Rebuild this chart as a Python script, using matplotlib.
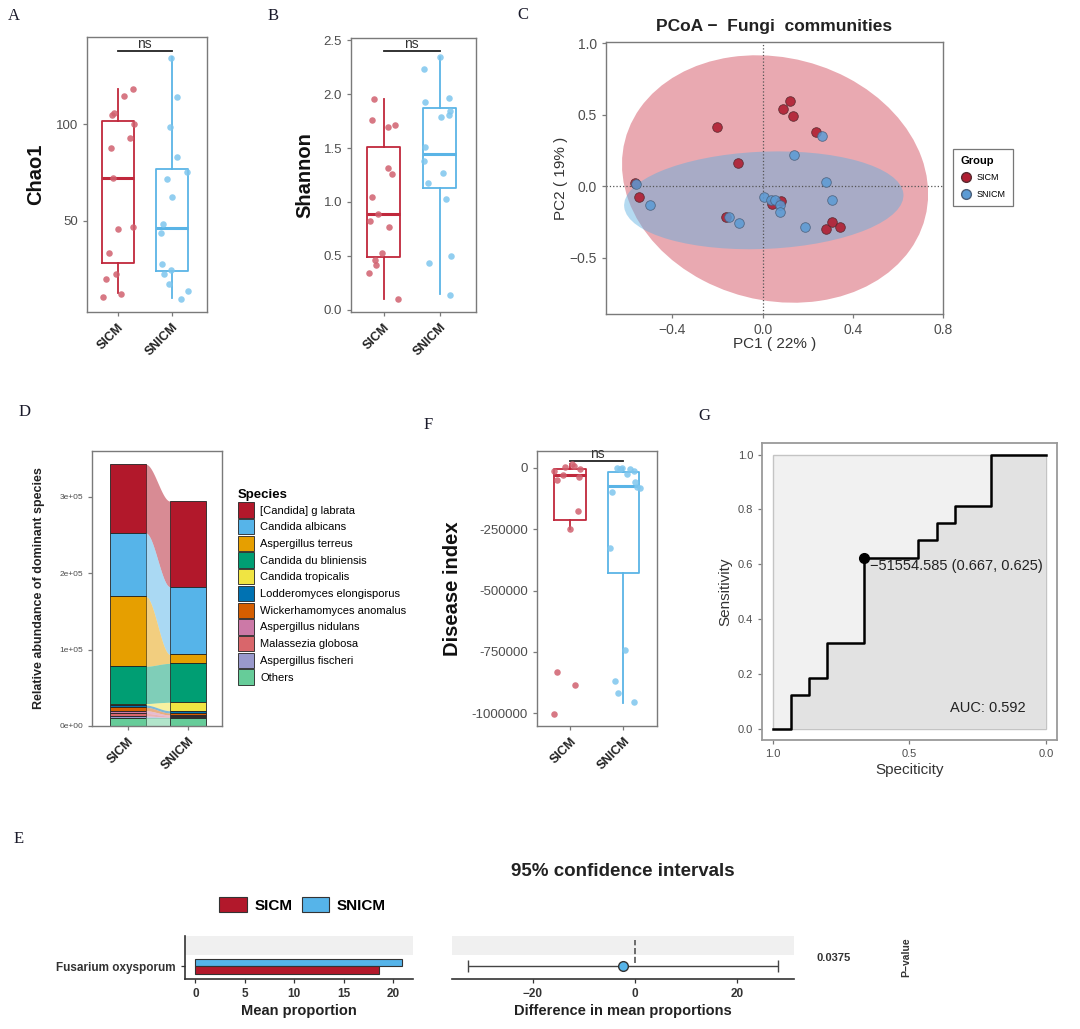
import numpy as np
import matplotlib.pyplot as plt
from matplotlib.patches import Ellipse, Patch, Rectangle
from matplotlib.lines import Line2D

plt.rcParams['font.family'] = ['Liberation Sans', 'DejaVu Sans']

W, H = 1080, 1029

RED = '#C0283C'
BLUE = '#5AB4E6'
RED_PT = '#D0606E'
BLUE_PT = '#7EC6EE'
SPINE = '#7a7a7a'
TXT = '#4d4d4d'

groups = ['SICM', 'SNICM']

# ---- A: Chao1
chao_sicm = [117.9, 114.6, 105.5, 104.5, 100.0, 93.0, 87.6, 72.3, 45.7, 46.7, 33.7, 20.1, 22.5, 10.7, 12.4]
chao_sicm_jit = [0.28, 0.12, -0.07, -0.10, 0.30, 0.23, -0.12, -0.09, 0.01, 0.28, -0.17, -0.22, -0.04, -0.27, 0.06]
chao_snicm = [134.2, 114.1, 98.6, 82.8, 75.4, 71.6, 62.5, 48.3, 44.0, 27.7, 22.5, 24.7, 17.4, 13.6, 9.6]
chao_snicm_jit = [-0.02, 0.09, -0.03, 0.09, 0.28, -0.09, 0.0, -0.16, -0.20, -0.19, -0.15, -0.02, -0.06, 0.30, 0.17]
# whislo, q1, med, q3, whishi
chao_box = [[12.9, 28.4, 72.2, 101.5, 118.0], [10.3, 24.2, 46.4, 76.8, 134.5]]

# ---- B: Shannon
shan_sicm = [1.954, 1.759, 1.710, 1.694, 1.318, 1.256, 1.049, 0.892, 0.824, 0.769, 0.525, 0.463, 0.417, 0.340, 0.099]
shan_sicm_jit = [-0.17, -0.21, 0.20, 0.08, 0.08, 0.16, -0.20, -0.09, -0.24, 0.10, -0.02, -0.16, -0.14, -0.26, 0.26]
shan_snicm = [2.34, 2.228, 1.929, 1.96, 1.843, 1.806, 1.784, 1.512, 1.377, 1.265, 1.179, 1.028, 0.503, 0.438, 0.139]
shan_snicm_jit = [0.01, -0.28, -0.26, 0.16, 0.19, 0.16, 0.02, -0.26, -0.27, 0.06, -0.20, 0.12, 0.21, -0.18, 0.19]
shan_box = [[0.10, 0.491, 0.892, 1.509, 1.954], [0.145, 1.133, 1.448, 1.873, 2.34]]

# ---- C: PCoA
pc_sicm_x = [0.122, 0.090, 0.133, -0.203, 0.238, -0.111, -0.568, -0.548, -0.163, 0.040, 0.083, 0.281, 0.306, 0.341]
pc_sicm_y = [0.596, 0.542, 0.491, 0.414, 0.383, 0.161, 0.021, -0.077, -0.217, -0.124, -0.100, -0.299, -0.252, -0.283]
pc_snicm_x = [0.265, 0.138, 0.281, 0.306, -0.563, -0.500, -0.151, -0.105, 0.008, 0.035, 0.054, 0.078, 0.079, 0.186]
pc_snicm_y = [0.355, 0.220, 0.033, -0.093, 0.016, -0.129, -0.217, -0.259, -0.077, -0.096, -0.093, -0.129, -0.178, -0.283]
# centre x, centre y, width, height, angle
ell_sicm = (0.055, 0.052, 1.334, 1.749, 13)
ell_snicm = (0.005, -0.097, 1.242, 0.679, 4.6)

# ---- D: dominant species (stacked, top to bottom)
species = ['[Candida] g labrata', 'Candida albicans', 'Aspergillus terreus', 'Candida du bliniensis',
           'Candida tropicalis', 'Lodderomyces elongisporus', 'Wickerhamomyces anomalus',
           'Aspergillus nidulans', 'Malassezia globosa', 'Aspergillus fischeri', 'Others']
species_colors = ['#B2182B', '#56B4E9', '#E69F00', '#009E73', '#F0E442', '#0072B2', '#D55E00',
                  '#CC79A7', '#D9666B', '#9999CC', '#66CC99']
abund_sicm = [90000, 83000, 91500, 48800, 2000, 3000, 4400, 3500, 3500, 3000, 10000]
abund_snicm = [112100, 88600, 11800, 51000, 11000, 3000, 2500, 1500, 1500, 1500, 10000]
d_yticks = [0, 100000, 200000, 300000]
d_yticklabels = ['0e+00', '1e+05', '2e+05', '3e+05']

# ---- F: disease index
dis_sicm = [-1001000, -831500, -883000, -251400, -176600, -50300, -15000, 4000, 15000, 6800, -39400, -5400, -29900]
dis_sicm_jit = [-0.30, -0.24, 0.09, -0.01, 0.14, -0.24, -0.30, -0.09, 0.03, 0.07, 0.16, 0.19, -0.13]
dis_snicm = [-953800, -917000, -869600, -740500, -328800, -97800, -2700, -5400, -27200, -13600, -57000, -77400, -84200, -5400, -2700]
dis_snicm_jit = [0.19, -0.11, -0.16, 0.03, -0.26, -0.22, -0.12, -0.06, 0.06, 0.19, 0.22, 0.26, 0.31, 0.13, -0.03]
dis_box = [[-251000, -213000, -29900, -6800, 15000], [-956500, -430700, -73400, -19000, 0]]
dis_yticks = [0, -250000, -500000, -750000, -1000000]

# ---- G: ROC
roc_spec = [1.0, 0.933, 0.933, 0.867, 0.867, 0.8, 0.8, 0.667, 0.667, 0.467, 0.467,
            0.4, 0.4, 0.333, 0.333, 0.2, 0.2, 0.0]
roc_sens = [0.0, 0.0, 0.125, 0.125, 0.1875, 0.1875, 0.3125, 0.3125, 0.625, 0.625, 0.6875,
            0.6875, 0.75, 0.75, 0.8125, 0.8125, 1.0, 1.0]
best_spec, best_sens = 0.667, 0.625
best_thr = '\u221251554.585'
auc = 0.592

# ---- E: extended error bar
e_feature = ['Fusarium oxysporum']
e_mean_sicm = [18.6]
e_mean_snicm = [20.9]
e_diff = [-2.3]
e_ci_low = [-32.7]
e_ci_high = [28.1]
e_pvalue = ['0.0375']


fig = plt.figure(figsize=(W / 100, H / 100), dpi=100)


def px_axes(l, t, r, b):
    return fig.add_axes([l / W, 1 - b / H, (r - l) / W, (b - t) / H])


def style(ax, fs=9.5):
    for s in ax.spines.values():
        s.set_color(SPINE)
        s.set_linewidth(1.0)
    ax.tick_params(colors=SPINE, labelcolor=TXT, labelsize=fs, length=3, width=0.9)


def box_panel(ax, box, pts, jit, ylabel, ns_y, lab_x):
    cols = [RED, BLUE]
    pcols = [RED_PT, BLUE_PT]
    for i in range(2):
        st = box[i]
        stats = [dict(whislo=st[0], q1=st[1], med=st[2], q3=st[3], whishi=st[4], fliers=[])]
        ax.bxp(stats, positions=[i + 1], widths=0.6, showfliers=False, showcaps=False,
               boxprops=dict(color=cols[i], lw=1.3), whiskerprops=dict(color=cols[i], lw=1.3),
               medianprops=dict(color=cols[i], lw=2.2))
        ax.scatter(np.array(jit[i]) + i + 1, pts[i], s=22, color=pcols[i], alpha=0.85,
                   lw=0, zorder=3)
    ax.plot([1, 2], [ns_y, ns_y], color='#222222', lw=1.3)
    ax.text(1.5, ns_y, 'ns', ha='center', va='bottom', fontsize=10, color='#333333')
    ax.set_xticks([1, 2])
    ax.set_xticklabels(groups, rotation=45, ha='right', rotation_mode='anchor',
                       fontweight='bold', fontsize=9, color='#222222')
    ax.set_ylabel(ylabel, fontsize=14.5, fontweight='bold', color='#111111')
    ax.yaxis.set_label_coords(lab_x, 0.5)


# ---------- A
axA = px_axes(87, 37, 207, 312)
style(axA)
box_panel(axA, chao_box, [chao_sicm, chao_snicm], [chao_sicm_jit, chao_snicm_jit],
          'Chao1', 137.8, -0.35)
axA.set_xlim(0.43, 2.65)
axA.set_ylim(3, 145)
axA.set_yticks([50, 100])

# ---------- B
axB = px_axes(351, 38, 476, 312)
style(axB)
box_panel(axB, shan_box, [shan_sicm, shan_snicm], [shan_sicm_jit, shan_snicm_jit],
          'Shannon', 2.398, -0.29)
axB.set_xlim(0.42, 2.65)
axB.set_ylim(-0.02, 2.52)
axB.set_yticks([0, 0.5, 1.0, 1.5, 2.0, 2.5])
axB.set_yticklabels(['0.0', '0.5', '1.0', '1.5', '2.0', '2.5'])

# ---------- C
axC = px_axes(606, 42, 943, 314)
style(axC, 10)
e1 = Ellipse(ell_sicm[:2], ell_sicm[2], ell_sicm[3], angle=ell_sicm[4],
             facecolor='#C8283C', alpha=0.4, lw=0, zorder=1)
e2 = Ellipse(ell_snicm[:2], ell_snicm[2], ell_snicm[3], angle=ell_snicm[4],
             facecolor='#5AAEE0', alpha=0.45, lw=0, zorder=2)
axC.add_patch(e1)
axC.add_patch(e2)
axC.axhline(0, ls=':', color='#555555', lw=0.9, zorder=2.5)
axC.axvline(0, ls=':', color='#555555', lw=0.9, zorder=2.5)
axC.scatter(pc_sicm_x, pc_sicm_y, s=48, color='#B01E32', edgecolor='#5a2a30', lw=0.6,
            alpha=0.9, zorder=3)
axC.scatter(pc_snicm_x, pc_snicm_y, s=48, color='#5B9BD5', edgecolor='#4a5f7a', lw=0.6,
            alpha=0.85, zorder=4)
axC.set_xlim(-0.695, 0.80)
axC.set_ylim(-0.892, 1.01)
axC.set_xticks([-0.4, 0.0, 0.4, 0.8])
axC.set_yticks([-0.5, 0.0, 0.5, 1.0])
axC.set_xlabel('PC1 ( 22% )', fontsize=11, color='#333333')
axC.set_ylabel('PC2 ( 19% )', fontsize=11, color='#333333')
axC.xaxis.set_label_coords(0.5, -0.085)
axC.yaxis.set_label_coords(-0.113, 0.5)
axC.text(0.5, 1.057, 'PCoA \u2212  Fungi  communities', transform=axC.transAxes,
         ha='center', va='center', fontsize=12.5, fontweight='bold', color='#222222')
hC = [Line2D([], [], marker='o', ls='', color='#B01E32', markeredgecolor='#5a2a30', ms=7),
      Line2D([], [], marker='o', ls='', color='#5B9BD5', markeredgecolor='#4a5f7a', ms=7)]
legC = fig.legend(hC, groups, loc='upper left', bbox_to_anchor=(953 / W, 1 - 149 / H),
                  borderaxespad=0, title='Group', fontsize=6.5,
                  title_fontproperties={'weight': 'bold', 'size': 8},
                  alignment='left', frameon=True, fancybox=False, edgecolor='#555555',
                  borderpad=0.8, handletextpad=0.6, labelspacing=0.8, handlelength=1.2)
legC.get_frame().set_linewidth(0.9)

# ---------- D
axD = px_axes(92, 451, 222, 726)
style(axD, 6)
pos = [1, 2]
bw = 0.6
bot1, bot2 = sum(abund_sicm), sum(abund_snicm)
xs = np.linspace(1 + bw / 2, 2 - bw / 2, 60)
t = (xs - xs[0]) / (xs[-1] - xs[0])
sm = t * t * (3 - 2 * t)
for name, c, a1, a2 in zip(species, species_colors, abund_sicm, abund_snicm):
    top1, top2 = bot1, bot2
    bot1, bot2 = bot1 - a1, bot2 - a2
    axD.bar(pos, [a1, a2], bottom=[bot1, bot2], width=bw, color=c, edgecolor='#222222', lw=0.6)
    lo = bot1 + (bot2 - bot1) * sm
    hi = top1 + (top2 - top1) * sm
    axD.fill_between(xs, lo, hi, color=c, alpha=0.5, lw=0)
axD.set_xlim(0.405, 2.57)
axD.set_ylim(0, 360000)
axD.set_yticks(d_yticks)
axD.set_yticklabels(d_yticklabels)
axD.set_xticks(pos)
axD.set_xticklabels(groups, rotation=45, ha='right', rotation_mode='anchor',
                    fontweight='bold', fontsize=9, color='#222222')
axD.set_ylabel('Relative abundance of dominant species', fontsize=9, fontweight='bold',
               color='#222222')
axD.yaxis.set_label_coords(-0.36, 0.5)
hD = [Patch(facecolor=c, edgecolor='#222222', lw=0.6) for c in species_colors]
fig.legend(hD, species, loc='upper left', bbox_to_anchor=(238 / W, 1 - 489 / H),
           borderaxespad=0, title='Species', fontsize=8,
           title_fontproperties={'weight': 'bold', 'size': 9.5},
           alignment='left', frameon=False, borderpad=0, handlelength=1.4, handleheight=1.75,
           labelspacing=0.12, handletextpad=0.6)

# ---------- F
axF = px_axes(537, 451, 657, 726)
style(axF)
box_panel(axF, dis_box, [dis_sicm, dis_snicm], [dis_sicm_jit, dis_snicm_jit],
          'Disease index', 28500, -0.625)
axF.set_xlim(0.375, 2.63)
axF.set_ylim(-1051700, 68000)
axF.set_yticks(dis_yticks)
axF.set_yticklabels([str(v) for v in dis_yticks])

# ---------- G
axG = px_axes(762, 443, 1057, 740)
style(axG, 8)
axG.add_patch(Rectangle((0, 0), 1, 1, facecolor='#f1f1f1', edgecolor='#c4c4c4', lw=1.0, zorder=0))
axG.fill_between(roc_spec, roc_sens, 0, color='#e2e2e2', lw=0, zorder=1)
axG.plot(roc_spec, roc_sens, color='black', lw=1.8, zorder=2)
axG.plot(best_spec, best_sens, 'o', color='black', ms=7, zorder=3)
axG.text(best_spec - 0.022, best_sens - 0.03, f'{best_thr} ({best_spec:.3f}, {best_sens:.3f})',
         fontsize=10.5, ha='left', va='center', color='#222222', zorder=4)
axG.text(0.213, 0.079, f'AUC: {auc:.3f}', fontsize=10.5, ha='center', va='center',
         color='#222222')
axG.set_xlim(1.039, -0.041)
axG.set_ylim(-0.039, 1.042)
axG.set_xticks([1.0, 0.5, 0.0])
axG.set_yticks([0, 0.2, 0.4, 0.6, 0.8, 1.0])
axG.set_xticklabels(['1.0', '0.5', '0.0'])
axG.set_yticklabels(['0.0', '0.2', '0.4', '0.6', '0.8', '1.0'])
for s in axG.spines.values():
    s.set_color('#9a9a9a')
    s.set_linewidth(1.3)
axG.set_xlabel('Speciticity', fontsize=11, color='#333333')
axG.set_ylabel('Sensitivity', fontsize=11, color='#333333')
axG.xaxis.set_label_coords(0.5, -0.077)
axG.yaxis.set_label_coords(-0.10, 0.5)

# ---------- E left: mean proportions
axE1 = px_axes(185, 936, 413, 979)
axE1.axhspan(1.5, 2.5, color='#f0f0f0', lw=0, zorder=0)
axE1.barh([1.175], e_mean_snicm, height=0.35, color='#56B4E9', edgecolor='#333333', lw=0.8)
axE1.barh([0.825], e_mean_sicm, height=0.35, color='#B2182B', edgecolor='#333333', lw=0.8)
axE1.set_xlim(-1.05, 22)
axE1.set_ylim(0.4, 2.4)
axE1.set_yticks([1])
axE1.set_yticklabels(e_feature, fontsize=9, fontweight='bold', color='#333333')
axE1.set_xticks([0, 5, 10, 15, 20])
axE1.tick_params(labelsize=8.5, length=3, width=0.9, colors='#333333')
for lab in axE1.get_xticklabels():
    lab.set_fontweight('bold')
for s in ['top', 'right']:
    axE1.spines[s].set_visible(False)
for s in ['left', 'bottom']:
    axE1.spines[s].set_color('#333333')
    axE1.spines[s].set_linewidth(1.2)
axE1.set_xlabel('Mean proportion', fontsize=10.5, fontweight='bold', color='#222222')
axE1.xaxis.set_label_coords(0.5, -0.58)
hE = [Patch(facecolor='#B2182B', edgecolor='#333333', lw=0.8),
      Patch(facecolor='#56B4E9', edgecolor='#333333', lw=0.8)]
fig.legend(hE, groups, loc='upper left', bbox_to_anchor=(219 / W, 1 - 897 / H), ncol=2,
           borderaxespad=0, frameon=False, prop={'weight': 'bold', 'size': 11},
           handlelength=1.82, handleheight=1.1, handletextpad=0.5, columnspacing=0.6,
           borderpad=0)

# ---------- E right: difference with CI
axE2 = px_axes(452, 936, 794, 979)
axE2.axhspan(1.5, 2.5, color='#f0f0f0', lw=0, zorder=0)
axE2.vlines(0, 1.15, 2.2, colors='#555555', linestyles='--', lw=1.2)
axE2.errorbar(e_diff, [1], xerr=[[e_diff[0] - e_ci_low[0]], [e_ci_high[0] - e_diff[0]]],
              fmt='o', color='#444444', ecolor='#444444', elinewidth=1.0, capsize=4,
              markersize=7, markerfacecolor='#56B4E9', markeredgecolor='#333333')
axE2.set_xlim(-35.8, 31.2)
axE2.set_ylim(0.4, 2.4)
axE2.set_yticks([])
axE2.set_xticks([-20, 0, 20])
axE2.tick_params(labelsize=8.5, length=3, width=0.9, colors='#333333')
for lab in axE2.get_xticklabels():
    lab.set_fontweight('bold')
for s in ['top', 'right', 'left']:
    axE2.spines[s].set_visible(False)
axE2.spines['bottom'].set_color('#333333')
axE2.spines['bottom'].set_linewidth(1.2)
axE2.set_xlabel('Difference in mean proportions', fontsize=10.5, fontweight='bold',
                color='#222222')
axE2.xaxis.set_label_coords(0.5, -0.58)
fig.text(623 / W, 1 - 872 / H, '95% confidence intervals', fontsize=13.5, fontweight='bold',
         ha='center', va='center', color='#222222')
fig.text(834 / W, 1 - 958 / H, e_pvalue[0], fontsize=8, fontweight='bold', ha='center',
         va='center', color='#333333')
fig.text(906 / W, 1 - 957 / H, 'P\u2212value', fontsize=7.5, fontweight='bold', ha='center',
         va='center', rotation=90, color='#333333')

# ---------- panel letters
for lab, x, y in [('A', 14, 16), ('B', 273, 16), ('C', 523, 15), ('D', 25, 412),
                  ('F', 428, 425), ('G', 704, 416), ('E', 19, 839)]:
    fig.text(x / W, 1 - y / H, lab, fontsize=12, family='Liberation Serif', ha='center',
             va='center', color='#1a1a2a')

fig.savefig('out.png', dpi=100)
